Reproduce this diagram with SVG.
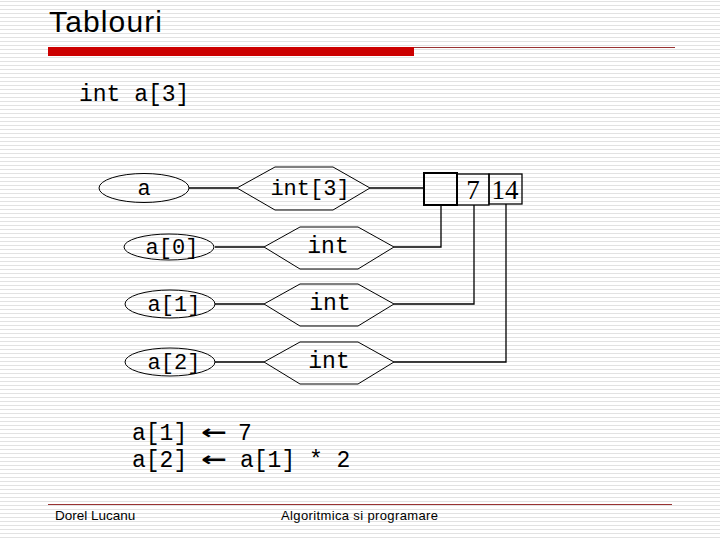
<svg xmlns="http://www.w3.org/2000/svg" width="720" height="540" viewBox="0 0 720 540">
<defs>
<pattern id="stripes" width="8" height="4" patternUnits="userSpaceOnUse">
<rect width="8" height="4" fill="#ffffff"/>
<rect y="1" width="8" height="1" fill="#e2e2e2"/>
</pattern>
</defs>
<style>
.mono{font-family:"Liberation Mono","Courier New",monospace;fill:#000}
.node{fill:none;stroke:#000;stroke-width:1}
.conn{fill:none;stroke:#000;stroke-width:1.3}
.sans{font-family:"Liberation Sans",Arial,sans-serif;fill:#000}
.serif{font-family:"Liberation Serif","Times New Roman",serif;fill:#000}
.arrow{font-family:"DejaVu Sans",sans-serif;font-weight:bold;fill:#000}
</style>
<rect width="720" height="540" fill="url(#stripes)"/>
<text class="sans" x="49" y="32" font-size="30" textLength="113">Tablouri</text>
<rect x="48" y="47" width="366" height="9" fill="#cc0000"/>
<line x1="414" y1="47.5" x2="675" y2="47.5" stroke="#993333" stroke-width="1"/>
<text class="mono" x="79" y="101" font-size="23">int a[3]</text>
<g id="connectors">
<line class="conn" x1="189" y1="188" x2="237" y2="188"/>
<line class="conn" x1="370" y1="188" x2="424" y2="188"/>
<line class="conn" x1="215" y1="247" x2="264" y2="247"/>
<line class="conn" x1="215" y1="304" x2="264" y2="304"/>
<line class="conn" x1="215" y1="362" x2="264" y2="362"/>
<polyline class="conn" points="441,205 441,247 394,247"/>
<polyline class="conn" points="474,205 474,304 394,304"/>
<polyline class="conn" points="506,204 506,362 394,362"/>
</g>
<g id="node-a">
<ellipse class="node" cx="144" cy="188" rx="45" ry="14.5"/>
<text class="mono" x="144" y="195" font-size="22" text-anchor="middle">a</text>
</g>
<g id="node-int3">
<polygon class="node" points="237,188 275,167 333,167 370,188 333,210 275,210"/>
<text class="mono" x="310" y="195" font-size="22" text-anchor="middle">int[3]</text>
</g>
<g id="node-a0">
<ellipse class="node" cx="169" cy="247" rx="45" ry="13"/>
<text class="mono" x="172" y="254" font-size="22" text-anchor="middle">a[0]</text>
</g>
<g id="node-a1">
<ellipse class="node" cx="170" cy="304" rx="45" ry="14"/>
<text class="mono" x="174" y="311" font-size="22" text-anchor="middle">a[1]</text>
</g>
<g id="node-a2">
<ellipse class="node" cx="170" cy="362" rx="45" ry="14"/>
<text class="mono" x="174" y="369" font-size="22" text-anchor="middle">a[2]</text>
</g>
<g id="node-int0">
<polygon class="node" points="264,247 300,227 358,227 394,247 358,269 300,269"/>
<text class="mono" x="328" y="253" font-size="23" text-anchor="middle">int</text>
</g>
<g id="node-int1">
<polygon class="node" points="264,304 300,284 358,284 394,304 358,326 300,326"/>
<text class="mono" x="330" y="310" font-size="23" text-anchor="middle">int</text>
</g>
<g id="node-int2">
<polygon class="node" points="264,362 300,342 358,342 394,362 358,384 300,384"/>
<text class="mono" x="329" y="368" font-size="23" text-anchor="middle">int</text>
</g>
<g id="node-memory">
<rect x="424" y="173" width="33" height="32" fill="none" stroke="#000" stroke-width="2"/>
<rect x="457" y="174" width="32" height="31" fill="none" stroke="#000" stroke-width="1.3"/>
<rect x="489" y="174" width="33" height="30" fill="none" stroke="#000" stroke-width="1.3"/>
<text class="serif" x="473" y="199" font-size="27" text-anchor="middle">7</text>
<text class="serif" x="505" y="199" font-size="27" text-anchor="middle">14</text>
</g>
<text class="mono" x="132" y="440" font-size="23">a[1]</text>
<text class="arrow" x="201" y="439" font-size="20" textLength="26" lengthAdjust="spacingAndGlyphs">←</text>
<text class="mono" x="238" y="440" font-size="23">7</text>
<text class="mono" x="132" y="467" font-size="23">a[2]</text>
<text class="arrow" x="201" y="466" font-size="20" textLength="26" lengthAdjust="spacingAndGlyphs">←</text>
<text class="mono" x="240" y="467" font-size="23">a[1] * 2</text>
<line x1="48" y1="504.5" x2="672" y2="504.5" stroke="#993333" stroke-width="1"/>
<text class="sans" x="55" y="520" font-size="13.5">Dorel Lucanu</text>
<text class="sans" x="281" y="520" font-size="13" textLength="157">Algoritmica si programare</text>
</svg>
